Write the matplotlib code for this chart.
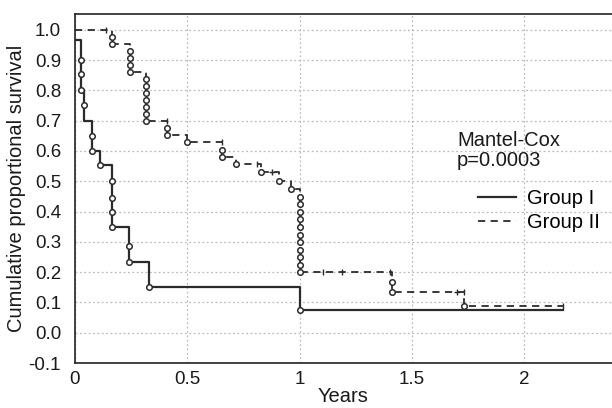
import numpy as np
import matplotlib
matplotlib.use('Agg')
import matplotlib.pyplot as plt
from matplotlib.lines import Line2D

plt.rcParams['font.family'] = ['Liberation Sans', 'DejaVu Sans']

# Group I (solid) - step path points, circle = event
t1 = [0.0, 0.027, 0.027, 0.027, 0.040, 0.040, 0.077, 0.077, 0.111, 0.163, 0.163,
      0.163, 0.163, 0.242, 0.242, 0.331, 1.0, 2.17]
s1 = [0.967, 0.90, 0.855, 0.80, 0.75, 0.70, 0.65, 0.60, 0.555, 0.50, 0.445,
      0.397, 0.348, 0.287, 0.232, 0.151, 0.075, 0.075]
ev1 = [0, 1, 1, 1, 1, 0, 1, 1, 1, 1, 1, 1, 1, 1, 1, 1, 1, 0]

# Group II (dashed)
t2 = [0.0, 0.163, 0.163, 0.245, 0.245, 0.245, 0.245,
      0.316, 0.316, 0.316, 0.316, 0.316, 0.316, 0.316,
      0.408, 0.408, 0.499, 0.655, 0.655, 0.717, 0.827, 0.91, 0.962,
      1.0, 1.0, 1.0, 1.0, 1.0, 1.0, 1.0, 1.0, 1.0, 1.0, 1.0,
      1.41, 1.41, 1.73, 2.17]
s2 = [1.0, 0.977, 0.953, 0.930, 0.907, 0.884, 0.860,
      0.837, 0.814, 0.791, 0.767, 0.744, 0.721, 0.698,
      0.675, 0.652, 0.628, 0.604, 0.580, 0.556, 0.530, 0.500, 0.474,
      0.449, 0.424, 0.399, 0.374, 0.349, 0.324, 0.299, 0.274, 0.249, 0.224, 0.199,
      0.166, 0.133, 0.089, 0.089]
ev2 = [0] + [1] * 36 + [0]

# censored cases of group II
cens_t = [0.137, 0.408, 0.655, 0.81, 0.877, 1.105, 1.188, 1.40, 1.70, 1.73, 2.17]
cens_s = [1.0, 0.698, 0.628, 0.556, 0.530, 0.199, 0.199, 0.199, 0.133, 0.133, 0.089]
cens_m = ['|', '|', '|', '|', '+', '|', '|', '|', '+', '|', '|']

xticks = [0, 0.5, 1, 1.5, 2]
xticklabels = ['0', '0.5', '1', '1.5', '2']
yticks = np.round(np.arange(-0.1, 1.01, 0.1), 1)

col = '#2b2b2b'

fig = plt.figure(figsize=(6.12, 4.08), dpi=100)
ax = fig.add_axes([75 / 612, 45 / 408, 537 / 612, 349 / 408])

ax.step(t1, s1, where='post', color=col, lw=1.6)
t1a, s1a, e1 = np.array(t1), np.array(s1), np.array(ev1, bool)
ax.plot(t1a[e1], s1a[e1], 'o', ms=4.0, mfc='white', mec=col, mew=1.1, ls='none')

ax.step(t2, s2, where='post', color=col, lw=1.3, dashes=(4, 3))
t2a, s2a, e2 = np.array(t2), np.array(s2), np.array(ev2, bool)
ax.plot(t2a[e2], s2a[e2], 'o', ms=4.0, mfc='white', mec=col, mew=1.1, ls='none')
for x, y, m in zip(cens_t, cens_s, cens_m):
    ax.plot(x, y, m, ms=5, mec=col, mew=1.0)

ax.set_xlim(0, 2.39)
ax.set_ylim(-0.1, 1.052)
ax.set_xticks(xticks)
ax.set_xticklabels(xticklabels)
ax.set_yticks(yticks)
ax.set_yticklabels(['%.1f' % v for v in yticks])
ax.tick_params(length=0, labelsize=13.5, colors='#1a1a1a')
ax.tick_params(axis='y', pad=10)
ax.tick_params(axis='x', pad=6)
ax.grid(True, color='#bbbbbb', ls=(0, (1.5, 2)), lw=0.9)
ax.set_axisbelow(True)
for sp in ['left', 'bottom', 'top']:
    ax.spines[sp].set_color('#222222')
    ax.spines[sp].set_linewidth(1.2)
ax.spines['right'].set_visible(False)

ax.set_ylabel('Cumulative proportional survival', fontsize=14.5, labelpad=2, color='#1a1a1a')
ax.set_xlabel('Years', fontsize=14.5, labelpad=-1, color='#1a1a1a')

fig.text(457 / 612, 1 - 131 / 408, 'Mantel-Cox\np=0.0003', fontsize=14.5, va='top',
         ha='left', linespacing=1.05, color='#1a1a1a')

handles = [Line2D([], [], color=col, lw=1.6),
           Line2D([], [], color=col, lw=1.3, dashes=(4, 3))]
fig.legend(handles, ['Group I', 'Group II'], loc='upper left',
           bbox_to_anchor=(478 / 612, 1 - 189 / 408), frameon=False, fontsize=14.5,
           handlelength=1.9, handletextpad=0.55, labelspacing=0.25, borderpad=0,
           borderaxespad=0)

fig.savefig('out.png', dpi=100)
